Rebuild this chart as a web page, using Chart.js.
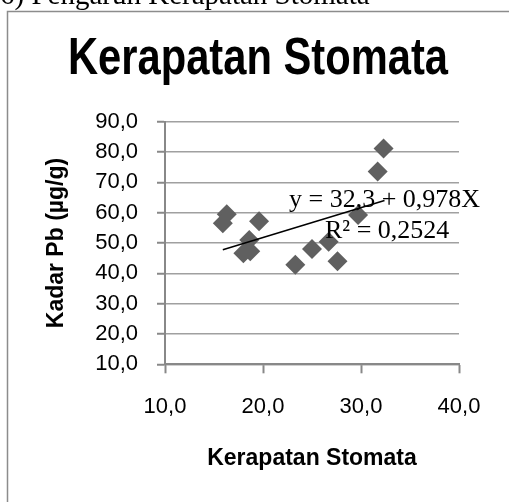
<!DOCTYPE html>
<html>
<head>
<meta charset="utf-8">
<script src="https://cdn.jsdelivr.net/npm/chart.js@4"></script>
<style>
  html, body { margin: 0; padding: 0; background: #fff; overflow: hidden; }
  #wrap { position: relative; width: 509px; height: 502px; }
</style>
</head>
<body>
<div id="wrap"><canvas id="chart" width="509" height="502"></canvas></div>
<script>
// --- Data ---
const stomata = [16.3, 15.9, 19.6, 18.6, 18.0, 18.7, 23.3, 25.0, 26.7, 27.6, 29.7, 31.7, 32.3];
const kadarPb = [59.5, 56.5, 57.2, 51.0, 46.6, 47.3, 42.8, 48.0, 50.4, 44.0, 59.2, 73.6, 81.2];
const trendX = [15.9, 32.4];
const trendY = [47.8, 64.0];
const xTicks = [10, 20, 30, 40];
const yTicks = [10, 20, 30, 40, 50, 60, 70, 80, 90];

const fmt = v => v.toFixed(1).replace('.', ',');
const sans = 'Liberation Sans, Arial, sans-serif';
const serif = 'Liberation Serif, Times New Roman, serif';

// Caption, frame, narrow chart title and regression text
const extras = {
    id: 'extras',
    beforeDraw(chart) {
        const ctx = chart.ctx;
        ctx.save();
        ctx.strokeStyle = '#8c8c8c';
        ctx.lineWidth = 1.5;
        ctx.strokeRect(7.5, 11.5, 600, 600);
        ctx.fillStyle = '#000';
        ctx.font = '29px ' + serif;
        ctx.textBaseline = 'alphabetic';
        ctx.fillText('6) Pengaruh Kerapatan Stomata', 0, 4);

        // title is a condensed bold face: squeeze a regular bold one
        const title = 'Kerapatan Stomata';
        ctx.font = 'bold 52px ' + sans;
        const w = ctx.measureText(title).width;
        ctx.translate(258, 74);
        ctx.scale(380 / w, 1);
        ctx.textAlign = 'center';
        ctx.fillText(title, 0, 0);
        ctx.restore();
    },
    afterDatasetsDraw(chart) {
        const ctx = chart.ctx;
        ctx.save();
        ctx.fillStyle = '#000';
        ctx.font = '26px ' + serif;
        ctx.textBaseline = 'alphabetic';
        ctx.fillText('y = 32,3 + 0,978X', 289, 207);
        ctx.fillText('R² = 0,2524', 325, 238);
        ctx.restore();
    }
};

new Chart(document.getElementById('chart'), {
    type: 'scatter',
    data: {
        datasets: [{
            label: 'Kadar Pb',
            data: stomata.map((x, i) => ({ x: x, y: kadarPb[i] })),
            pointStyle: 'rectRot',
            pointRadius: 10,
            pointHoverRadius: 10,
            backgroundColor: '#606060',
            borderWidth: 0,
            order: 2
        }, {
            label: 'Trend',
            data: trendX.map((x, i) => ({ x: x, y: trendY[i] })),
            showLine: true,
            pointRadius: 0,
            borderColor: '#000',
            borderWidth: 1.5,
            order: 1
        }]
    },
    options: {
        responsive: false,
        animation: false,
        layout: { padding: { left: 0, right: 50, top: 121.7, bottom: 0 } },
        plugins: {
            legend: { display: false },
            tooltip: { enabled: false },
            title: { display: false }
        },
        scales: {
            x: {
                type: 'linear',
                min: 10,
                max: 40,
                afterFit: s => { s.height = 137.7; },
                afterBuildTicks: s => { s.ticks = xTicks.map(v => ({ value: v })); },
                ticks: { callback: fmt, color: '#000', font: { family: sans, size: 22 }, padding: 20 },
                grid: { drawOnChartArea: false, drawTicks: true, tickLength: 9, tickColor: '#888', tickWidth: 2 },
                border: { color: '#888', width: 2 },
                title: {
                    display: true,
                    text: 'Kerapatan Stomata',
                    color: '#000',
                    font: { family: sans, size: 23, weight: 'bold', lineHeight: 1.2 },
                    padding: { top: 0, bottom: 30 }
                }
            },
            y: {
                type: 'linear',
                min: 10,
                max: 90,
                afterFit: s => { s.width = 165; },
                afterBuildTicks: s => { s.ticks = yTicks.map(v => ({ value: v })); },
                ticks: { callback: fmt, color: '#000', font: { family: sans, size: 22 }, padding: 19 },
                grid: { color: '#a0a0a0', lineWidth: 1.5, drawTicks: true, tickLength: 8, tickColor: '#888', tickWidth: 2 },
                border: { color: '#888', width: 2 },
                title: {
                    display: true,
                    text: 'Kadar Pb (µg/g)',
                    color: '#000',
                    font: { family: sans, size: 23, weight: 'bold', lineHeight: 1.2 },
                    padding: { top: 43, bottom: 0 }
                }
            }
        }
    },
    plugins: [extras]
});
</script>
</body>
</html>
